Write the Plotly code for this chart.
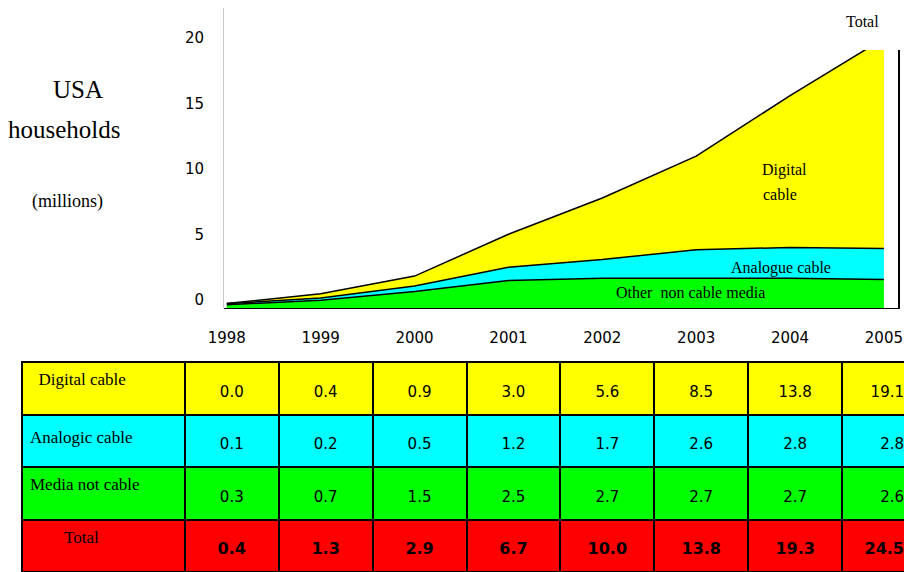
import plotly.graph_objects as go

# ---------------- data ----------------
years = [1998, 1999, 2000, 2001, 2002, 2003, 2004, 2005]
digital_cable = [0.0, 0.4, 0.9, 3.0, 5.6, 8.5, 13.8, 19.1]
analogue_cable = [0.1, 0.2, 0.5, 1.2, 1.7, 2.6, 2.8, 2.8]
non_cable_media = [0.3, 0.7, 1.5, 2.5, 2.7, 2.7, 2.7, 2.6]
totals = [0.4, 1.3, 2.9, 6.7, 10.0, 13.8, 19.3, 24.5]
y_tick_labels = [0, 5, 10, 15, 20]
table_row_labels = ["Digital cable", "Analogic cable", "Media not cable", "Total"]

# ---------------- layout helpers ----------------
# the page puts the figure 8px in from the top-left corner
OFF = 8
W, H = 912 - OFF, 572 - OFF


def px(x):
    return (x - OFF) / W


def py(y):
    return 1 - (y - OFF) / H


YELLOW = "#FFFF00"
CYAN = "#00FFFF"
GREEN = "#00FF00"
RED = "#FF0000"
SERIF = "Liberation Serif"
SANS = "DejaVu Sans"

fig = go.Figure()

# stacked areas (bottom to top)
for name, vals, col in [
    ("Other non cable media", non_cable_media, GREEN),
    ("Analogue cable", analogue_cable, CYAN),
    ("Digital cable", digital_cable, YELLOW),
]:
    fig.add_trace(go.Scatter(
        x=years, y=vals, name=name, mode="lines", stackgroup="one",
        fillcolor=col, line=dict(color="black", width=1.5),
        showlegend=False, hoverinfo="x+y+name",
    ))

# invisible carrier so that the labelled left axis is drawn
fig.add_trace(go.Scatter(
    x=years, y=totals, yaxis="y2", mode="lines",
    line=dict(width=0, color="rgba(0,0,0,0)"), showlegend=False, hoverinfo="skip",
))


def cell(text, size, bold=False, pad_lines=1):
    inner = f"<b>{text}</b>" if bold else text
    return "\u00a0<br>" * pad_lines + f"<span style='font-size:{size}px'>{inner}</span>"


# table
n = len(years)
NUM_SIZE = 15
LAB_SIZE = 17
header_vals = [cell("\u00a0\u00a0" + table_row_labels[0], LAB_SIZE)] + [
    cell(f"{v:.1f}", NUM_SIZE) for v in digital_cable
]
first_col = [
    cell(table_row_labels[1], LAB_SIZE, pad_lines=2),
    cell(table_row_labels[2], LAB_SIZE),
    cell("\u00a0" * 8 + table_row_labels[3], LAB_SIZE),
]
cell_cols = [first_col] + [
    [cell(f"{analogue_cable[i]:.1f}", NUM_SIZE),
     cell(f"{non_cable_media[i]:.1f}", NUM_SIZE),
     cell(f"{totals[i]:.1f}", 16, bold=True)]
    for i in range(n)
]
row_fills = [CYAN, GREEN, RED]
col_families = [SERIF] + [SANS] * n
col_sizes = [6] + [12] * n
aligns = ["left"] + ["center"] * (n - 1) + ["right"]

fig.add_trace(go.Table(
    domain=dict(x=[px(22), 1], y=[0, py(362)]),
    columnwidth=[163] + [94] * (n - 1) + [70],
    header=dict(
        values=header_vals,
        fill=dict(color=YELLOW),
        line=dict(color="black", width=2),
        align=aligns,
        height=52.5,
        font=dict(family=col_families, size=col_sizes, color="black"),
    ),
    cells=dict(
        values=cell_cols,
        fill=dict(color=[row_fills for _ in range(n + 1)]),
        line=dict(color="black", width=2),
        align=aligns,
        height=52.5,
        font=dict(family=col_families, size=col_sizes, color="black"),
    ),
))

annotations = [
    dict(text="USA", x=px(78), y=py(90), size=25),
    dict(text="households", x=px(64), y=py(129), size=25),
    dict(text="(millions)", x=px(67), y=py(201), size=18),
    dict(text="Total", x=px(862), y=py(22), size=16),
    dict(text="Digital", x=px(784), y=py(170), size=16),
    dict(text="cable", x=px(780), y=py(195), size=16),
    dict(text="Analogue cable", x=px(781), y=py(268), size=16),
    dict(text="Other  non cable media", x=px(690), y=py(292), size=16),
]

fig.update_layout(
    width=W, height=H,
    margin=dict(l=0, r=0, t=0, b=0, autoexpand=False),
    paper_bgcolor="white",
    plot_bgcolor="rgba(0,0,0,0)",
    showlegend=False,
    xaxis=dict(
        domain=[px(224), px(898)], range=[1997.97, 2005.15], anchor="y",
        tickmode="array", tickvals=years, ticktext=[str(y) for y in years],
        showgrid=False, zeroline=False, showline=True, linecolor="black", linewidth=1,
        ticks="", ticklabelstandoff=16, automargin=False,
        tickfont=dict(family=SANS, size=15, color="black"),
    ),
    yaxis=dict(
        domain=[py(308), py(50)], range=[0, 23.45], anchor="x", side="right",
        showgrid=False, zeroline=False, showticklabels=False, ticks="",
        showline=True, linecolor="black", linewidth=1.5, automargin=False,
    ),
    yaxis2=dict(
        domain=[py(308), py(8)], range=[-0.6, 22.3], anchor="x", side="left",
        tickmode="array", tickvals=y_tick_labels,
        showgrid=False, zeroline=False, showline=True, linecolor="#c8c8c8", linewidth=1,
        ticks="", ticklabelstandoff=16, automargin=False,
        tickfont=dict(family=SANS, size=15, color="black"),
    ),
    annotations=[
        dict(text=a["text"], x=a["x"], y=a["y"], xref="paper", yref="paper",
             xanchor="center", yanchor="middle", showarrow=False,
             font=dict(family=SERIF, size=a["size"], color="black"))
        for a in annotations
    ],
)

fig.write_html("out.html")
